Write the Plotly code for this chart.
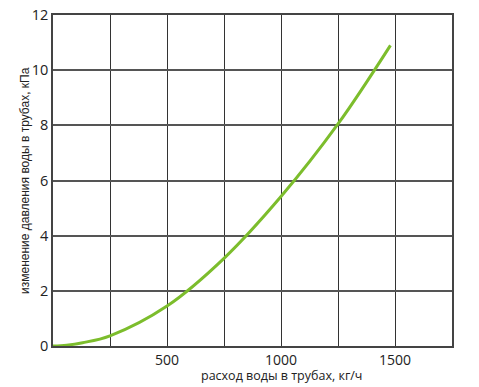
import plotly.graph_objects as go

flow = [0, 60, 130, 250, 500, 750, 1000, 1250, 1480]
dp = [0, 0.03, 0.12, 0.37, 1.45, 3.18, 5.42, 8.05, 10.9]

x_grid = [250, 500, 750, 1000, 1250, 1500, 1750]
x_labels = ["", "500", "", "1000", "", "1500", ""]
y_ticks = [0, 2, 4, 6, 8, 10, 12]

L, R, T, B = 53, 27, 15, 41
W, H = 479, 387
pw, ph = W - L - R, H - T - B

fig = go.Figure()
fig.add_trace(go.Scatter(x=flow, y=dp, mode="lines",
                         line=dict(color="#7cbd2c", width=3, shape="spline", smoothing=1.0),
                         hoverinfo="skip"))

fig.update_layout(
    width=W, height=H, autosize=False,
    margin=dict(l=L, r=R, t=T, b=B, pad=0),
    paper_bgcolor="white", plot_bgcolor="white",
    showlegend=False,
    font=dict(family="Open Sans", color="#222"),
    xaxis=dict(range=[0, 1750], tickvals=x_grid, ticktext=x_labels, automargin=False,
               showgrid=True, gridcolor="#333", gridwidth=1,
               zeroline=False, showline=True, linecolor="#444", linewidth=1.5,
               mirror=True, ticks="", tickfont=dict(size=14, color="#222")),
    yaxis=dict(range=[0, 12], tickvals=y_ticks, automargin=False,
               showgrid=True, gridcolor="#555", gridwidth=1.5,
               zeroline=False, showline=True, linecolor="#444", linewidth=1.5,
               mirror=True, ticks="", tickfont=dict(size=14.5, color="#222")),
    annotations=[
        dict(text="расход воды в трубах, кг/ч", xref="paper", yref="paper",
             x=(281 - L) / pw, y=-(375 - (H - B)) / ph, showarrow=False,
             xanchor="center", yanchor="middle",
             font=dict(size=12.5, color="#222")),
        dict(text="изменение давления воды в трубах, кПа", xref="paper", yref="paper",
             x=(25 - L) / pw, y=((H - B) - 181) / ph, showarrow=False, textangle=-90,
             xanchor="center", yanchor="middle",
             font=dict(family="Liberation Sans", size=12, color="#222")),
    ],
)

fig.write_html("out.html", config={"displayModeBar": False},
               post_script="document.body.style.margin='0';document.body.style.overflow='hidden';")
